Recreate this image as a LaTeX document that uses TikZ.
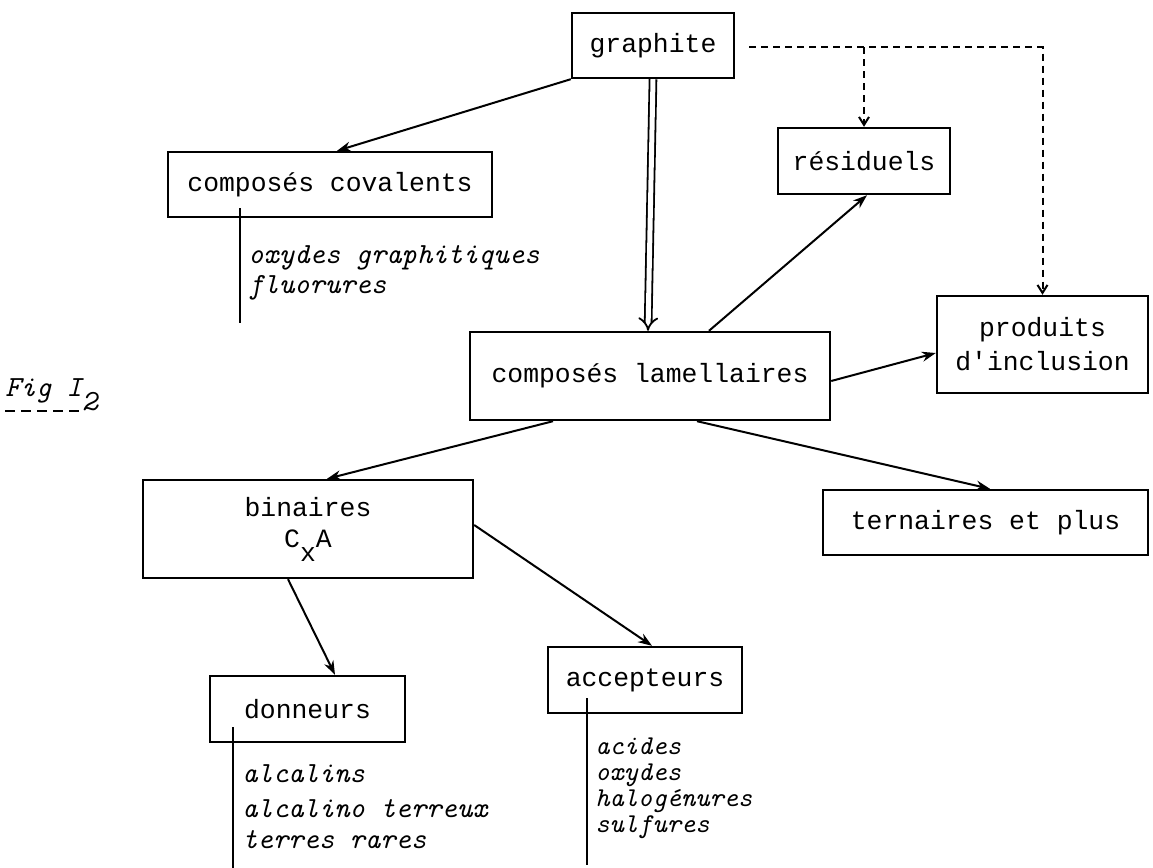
\documentclass[tikz,border=0pt]{standalone}
\usepackage{fontspec}
\newfontfamily\boxfont{Liberation Mono}
\usetikzlibrary{arrows.meta,calc}
\begin{document}
\begin{tikzpicture}[x=0.5pt,y=-0.5pt,
 box/.style={draw, line width=1.2pt, inner sep=0pt, align=center,
   font=\boxfont\fontsize{13.2}{17}\selectfont},
 arr/.style={line width=1pt, -{Stealth[length=7pt,width=5pt]}},
 dbl/.style={line width=0.9pt, double, double distance=2.5pt, -{Implies}},
 darr/.style={line width=1pt, dash pattern=on 3.5pt off 2.5pt, -{Straight Barb[length=4pt,width=5pt]}},
 tick/.style={line width=1pt},
 listtxt/.style={anchor=base west, inner sep=0pt,
   font=\ttfamily\itshape\fontsize{14.6}{17}\selectfont},
 listsmall/.style={listtxt, font=\ttfamily\itshape\fontsize{13.6}{15}\selectfont}]
\useasboundingbox (0,0) rectangle (1153,868);

% boxes
\node[box, minimum width=81pt, minimum height=32.5pt] (graphite) at (653,45.5) {graphite};
\node[box, minimum width=162pt, minimum height=32.5pt] (covalents) at (330,184.5) {composés covalents};
\node[box, minimum width=86pt, minimum height=33pt] (residuels) at (864,161) {résiduels};
\node[box, minimum width=105.5pt, minimum height=48.5pt] (produits) at (1042.5,344.5) {produits\\d'inclusion};
\node[box, minimum width=180pt, minimum height=44pt] (lamellaires) at (650,376) {composés lamellaires};
\node[box, minimum width=165pt, minimum height=49pt, font=\boxfont\fontsize{13.2}{15.5}\selectfont] (binaires) at (308,529) {binaires\\C\raisebox{-7pt}{x}A};
\node[box, minimum width=162.5pt, minimum height=32.5pt] (ternaires) at (985.5,522.5) {ternaires et plus};
\node[box, minimum width=97.5pt, minimum height=33pt] (donneurs) at (307.5,709) {donneurs};
\node[box, minimum width=97pt, minimum height=33pt] (accepteurs) at (645,680) {accepteurs};

% solid connectors
\draw[arr] (graphite.south west) -- ($(covalents.north)+(7,0)$);
\draw[dbl] (graphite.south) -- ($(lamellaires.north)+(-2,0)$);
\draw[arr] ($(lamellaires.north)+(59,0)$) -- ($(residuels.south)+(3,0)$);
\draw[arr] ($(lamellaires.east)+(0,5)$) -- ($(produits.west)+(0,8.5)$);
\draw[arr] ($(lamellaires.south)+(-97,0)$) -- ($(binaires.north)+(19,0)$);
\draw[arr] ($(lamellaires.south)+(47,0)$) -- ($(ternaires.north)+(4.5,0)$);
\draw[arr] ($(binaires.south)+(-20,0)$) -- ($(donneurs.north)+(27.5,0)$);
\draw[arr] ($(binaires.east)+(0,-4)$) -- ($(accepteurs.north)+(7,0)$);

% dashed connectors
\coordinate (gstart) at ($(graphite.east)+(14,1.5)$);
\draw[darr] (gstart) -| (produits.north);
\draw[darr] (residuels.north |- gstart) -- (residuels.north);

% lists
\coordinate (c1) at (240,208); \coordinate (c2) at (240,323);
\draw[tick] (c1) -- (c2);
\node[listtxt] (cov1) at (248,263) {oxydes graphitiques};
\node[listtxt] (cov2) at (248,293) {fluorures};

\coordinate (d1) at (233,727); \coordinate (d2) at (233,868);
\draw[tick] (d1) -- (d2);
\node[listtxt] (don1) at (242,782) {alcalins};
\node[listtxt] (don2) at (242,817) {alcalino terreux};
\node[listtxt] (don3) at (242,848) {terres rares};

\coordinate (a1) at (587,698); \coordinate (a2) at (587,865);
\draw[tick] (a1) -- (a2);
\node[listsmall] (acc1) at (595,754) {acides};
\node[listsmall] (acc2) at (595,780) {oxydes};
\node[listsmall] (acc3) at (595,806) {halogénures};
\node[listsmall] (acc4) at (595,832) {sulfures};

% figure label
\node[listtxt] (fig) at (5,396) {Fig I\raisebox{-7pt}{2}};
\coordinate (u1) at (5,411); \coordinate (u2) at (83,411);
\draw[line width=1pt, dash pattern=on 5pt off 3pt] (u1) -- (u2);
\end{tikzpicture}
\end{document}
